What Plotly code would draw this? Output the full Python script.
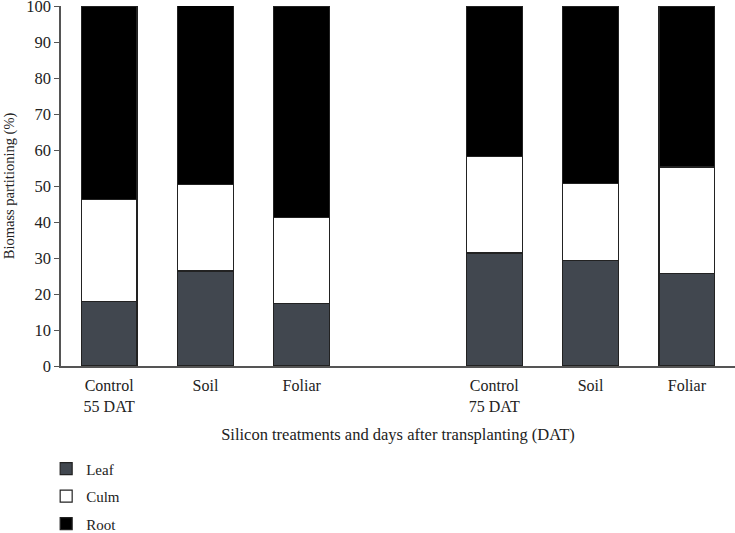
import plotly.graph_objects as go

# ----------------------------------------------------------------------------------------------------------------------
categories = ["C55", "S55", "F55", "C75", "S75", "F75"]
tick_labels = ["Control<br>55 DAT", "Soil", "Foliar", "Control<br>75 DAT", "Soil", "Foliar"]

leaf = [17.9, 26.4, 17.3, 31.4, 29.4, 25.8]
culm = [28.4, 24.1, 24.0, 26.9, 21.2, 29.5]
root = [53.7, 49.8, 58.7, 41.7, 49.4, 44.7]

FONT = "Liberation Serif"
AXIS_COLOR = "#555555"

# empty slot between the two sampling dates
cat_order = categories[:3] + [" "] + categories[3:]

fig = go.Figure()

for name, vals, col in [("Leaf", leaf, "#41474f"), ("Culm", culm, "white"), ("Root", root, "black")]:
    fig.add_trace(go.Bar(
        x=categories, y=vals, name=name, legendgroup=name,
        marker=dict(color=col, line=dict(color="#222222", width=1.2)),
        width=0.58, cliponaxis=False,
    ))

fig.update_layout(
    barmode="stack",
    width=735, height=533,
    margin=dict(l=61, r=0, t=6, b=167, autoexpand=False),
    plot_bgcolor="white", paper_bgcolor="white",
    font=dict(family=FONT, size=14, color="#222222"),
    showlegend=True,
    legend=dict(
        x=-0.022, y=-0.24, xanchor="left", yanchor="top",
        traceorder="grouped", tracegroupgap=5,
        font=dict(family=FONT, size=15),
        itemwidth=30,
    ),
)

fig.update_xaxes(
    type="category", categoryorder="array", categoryarray=cat_order,
    tickvals=categories, ticktext=tick_labels,
    range=[-0.5, 6.5], automargin=False,
    showline=True, linewidth=1.5, linecolor=AXIS_COLOR,
    ticks="", showgrid=False, tickfont=dict(size=16), ticklabelstandoff=4,
    title=dict(text="Silicon treatments and days after transplanting (DAT)",
               font=dict(size=16.5), standoff=15),
)
fig.update_yaxes(
    range=[0, 100], tickvals=list(range(0, 101, 10)), automargin=False,
    ticklabeloverflow="allow",
    showline=True, linewidth=1.5, linecolor=AXIS_COLOR,
    ticks="outside", ticklen=5, tickcolor=AXIS_COLOR,
    showgrid=False, zeroline=False, tickfont=dict(size=16.5),
    title=dict(text="Biomass partitioning (%)", font=dict(size=14.5), standoff=8),
)

# page body has a default 8px margin, drop it so the figure sits at the corner
fig.write_html("out.html", config={"displayModeBar": False},
               post_script="document.body.style.margin='0';")
